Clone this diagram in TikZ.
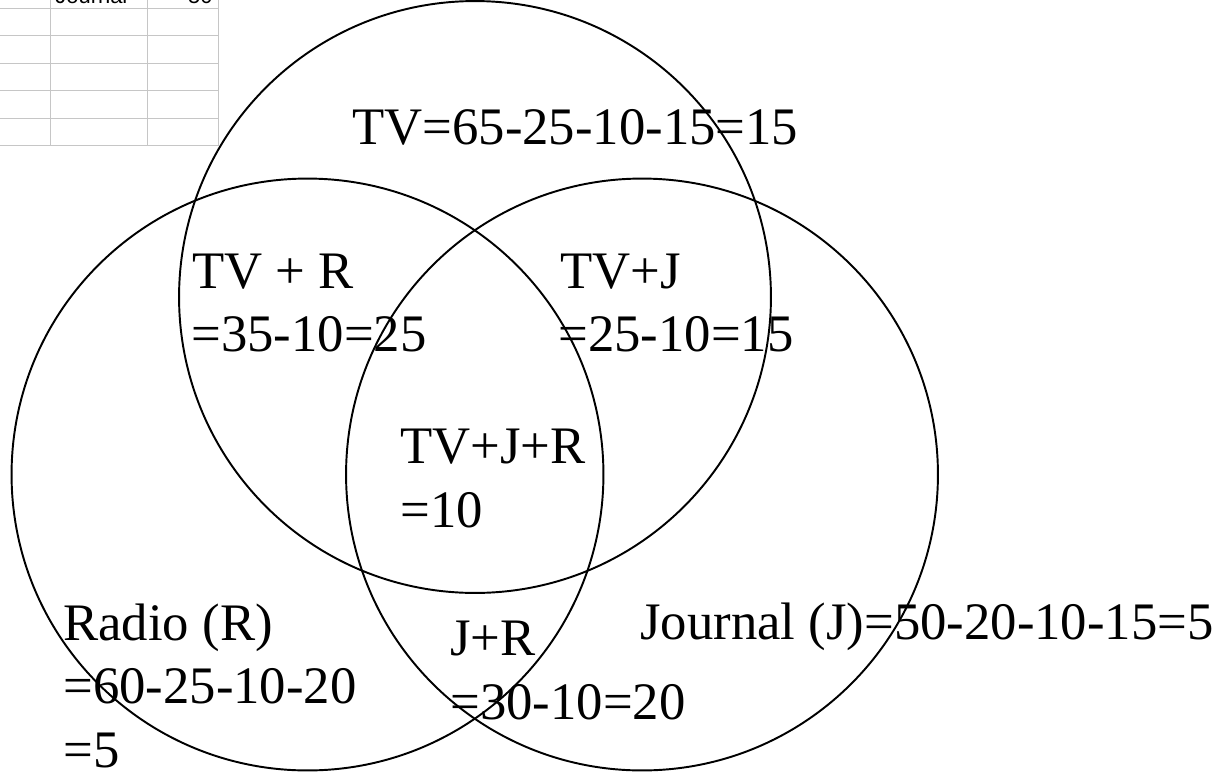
\documentclass[tikz,border=0pt]{standalone}
\usepackage{fontspec}
\setmainfont{Liberation Serif}
\newfontfamily\cellfont{Liberation Sans}
\usepackage{tikz}
\definecolor{ink}{HTML}{000000}
\definecolor{grid}{HTML}{C6C6C6}
\begin{document}
\begin{tikzpicture}[x=0.02cm,y=-0.02cm,
  setc/.style={circle,draw=ink,line width=1.1pt,minimum size=11.84cm,inner sep=0pt},
  lab/.style={font=\fontsize{30}{36}\selectfont,text=ink,inner sep=0pt,anchor=base west},
  cell/.style={font=\cellfont\fontsize{12.5}{15}\selectfont,text=ink,inner sep=0pt}]
\clip (0,0) rectangle (1221,778);
\useasboundingbox (0,0) rectangle (1221,778);
% spreadsheet corner
\draw[grid,line width=0.5pt] (0,8.3) -- (218,8.3);
\draw[grid,line width=0.5pt] (0,35.7) -- (218,35.7);
\draw[grid,line width=0.5pt] (0,63.3) -- (218,63.3);
\draw[grid,line width=0.5pt] (0,90.7) -- (218,90.7);
\draw[grid,line width=0.5pt] (0,118.3) -- (218,118.3);
\draw[grid,line width=0.5pt] (0,145.7) -- (218,145.7);
\draw[grid,line width=0.5pt] (50,-5) -- (50,145.7);
\draw[grid,line width=0.5pt] (147,-5) -- (147,145.7);
\draw[grid,line width=0.5pt] (218,-5) -- (218,145.7);
\node[cell,anchor=base west] (jcell) at (55,3.3) {Journal};
\node[cell,anchor=base east] (jval) at (213,3.3) {50};
% the three sets
\node[setc] (tv) at (475,297) {};
\node[setc] (radio) at (307.5,474.5) {};
\node[setc] (journal) at (642,474.5) {};
% region labels
\node[lab] (tvonly) at (352,144) {TV=65-25-10-15=15};
\node[lab] (tvra) at (192,288) {TV + R};
\node[lab] (tvrb) at (191,351) {=35-10=25};
\node[lab] (tvja) at (560,288) {TV+J};
\node[lab] (tvjb) at (558,351) {=25-10=15};
\node[lab] (alla) at (400,463) {TV+J+R};
\node[lab] (allb) at (400,527) {=10};
\node[lab] (ra) at (63,640) {Radio (R)};
\node[lab] (rb) at (63,703) {=60-25-10-20};
\node[lab] (rc) at (63,767) {=5};
\node[lab] (jra) at (450,655) {J+R};
\node[lab] (jrb) at (450,719) {=30-10=20};
\node[lab] (jonly) at (640,639) {Journal (J)=50-20-10-15=5};
\end{tikzpicture}
\end{document}
